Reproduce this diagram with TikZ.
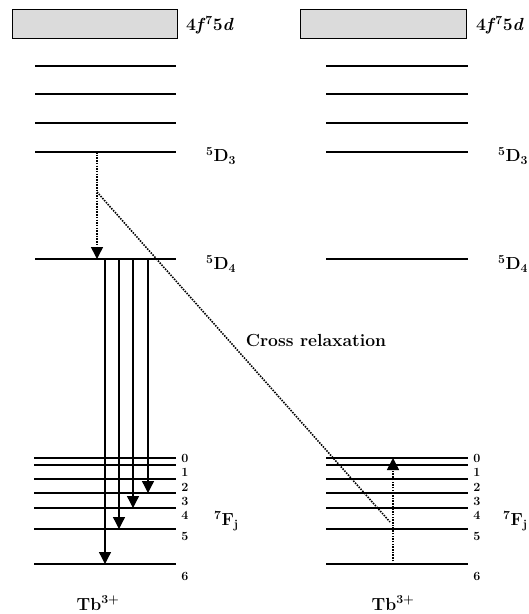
\documentclass[tikz,border=0pt]{standalone}
\usetikzlibrary{arrows.meta}
\begin{document}
\begin{tikzpicture}[x=1pt,y=-1pt,
  level/.style={line width=1.4pt},
  band/.style={draw=black,line width=1.2pt,fill=black!14},
  lbl/.style={font=\bfseries\fontsize{17.5}{20}\selectfont,inner sep=0pt},
  num/.style={font=\bfseries\fontsize{12.5}{14}\selectfont,inner sep=0pt},
  emit/.style={line width=1.3pt,-{Triangle[width=12pt,length=12pt]}},
  dotarr/.style={line width=1.6pt,dash pattern=on 1.5pt off 1.2pt,-{Triangle[width=12pt,length=12pt]}},
  dotline/.style={line width=1.6pt,dash pattern=on 1.5pt off 1.2pt}]
\useasboundingbox (0,0) rectangle (529,614);
% bands
\node[band,minimum width=165pt,minimum height=29pt,inner sep=0pt,anchor=north west] (bandL) at (12,9) {};
\node[band,minimum width=166pt,minimum height=29pt,inner sep=0pt,anchor=north west] (bandR) at (300,9) {};
\node[lbl,anchor=west] (tL) at (186,25) {4\textit{f}\textsuperscript{7}5\textit{d}};
\node[lbl,anchor=west] (tR) at (476,25) {4\textit{f}\textsuperscript{7}5\textit{d}};
% upper levels
\foreach \y/\n in {66/a,94/b,123/c,152/d3,259/d4}{
  \draw[level] (35,\y) coordinate (L\n w) -- (176,\y) coordinate (L\n e);
  \draw[level] (326,\y) coordinate (R\n w) -- (468,\y) coordinate (R\n e);
}
\node[lbl,anchor=west] (d3L) at (206,156) {\textsuperscript{5}D\textsubscript{3}};
\node[lbl,anchor=west] (d4L) at (206,264) {\textsuperscript{5}D\textsubscript{4}};
\node[lbl,anchor=west] (d3R) at (498,156) {\textsuperscript{5}D\textsubscript{3}};
\node[lbl,anchor=west] (d4R) at (498,264) {\textsuperscript{5}D\textsubscript{4}};
% 7F levels
\foreach \j/\y/\ny in {0/458/458,1/465/472,2/479/487,3/493/501,4/508/515,5/529/536,6/564/576}{
  \draw[level] (34,\y) coordinate (LF\j w) -- (176,\y) coordinate (LF\j e);
  \draw[level] (326,\y) coordinate (RF\j w) -- (468,\y) coordinate (RF\j e);
  \node[num] (nL\j) at (185,\ny) {\j};
  \node[num] (nR\j) at (477,\ny) {\j};
}
\node[lbl,anchor=west] (fL) at (214,521) {\textsuperscript{7}F\textsubscript{j}};
\node[lbl,anchor=west] (fR) at (503,521) {\textsuperscript{7}F\textsubscript{j}};
\node[lbl] (tbL) at (98,603) {Tb\textsuperscript{3+}};
\node[lbl] (tbR) at (393,603) {Tb\textsuperscript{3+}};
% left relaxation
\coordinate (s3) at (97,152);
\coordinate (e4) at (97,259);
\coordinate (split) at (97,192);
\draw[dotarr] (s3) -- (e4);
% emissions
\draw[emit] (105,259) -- (105,564);
\draw[emit] (119,259) -- (119,529);
\draw[emit] (133,259) -- (133,508);
\draw[emit] (148,259) -- (148,493);
% cross relaxation
\coordinate (cr) at (390,522);
\draw[dotline] (split) -- (cr);
\node[lbl] (crl) at (316,340) {Cross relaxation};
\coordinate (up0) at (393,564);
\coordinate (up1) at (393,458);
\draw[dotarr] (up0) -- (up1);
\end{tikzpicture}
\end{document}
